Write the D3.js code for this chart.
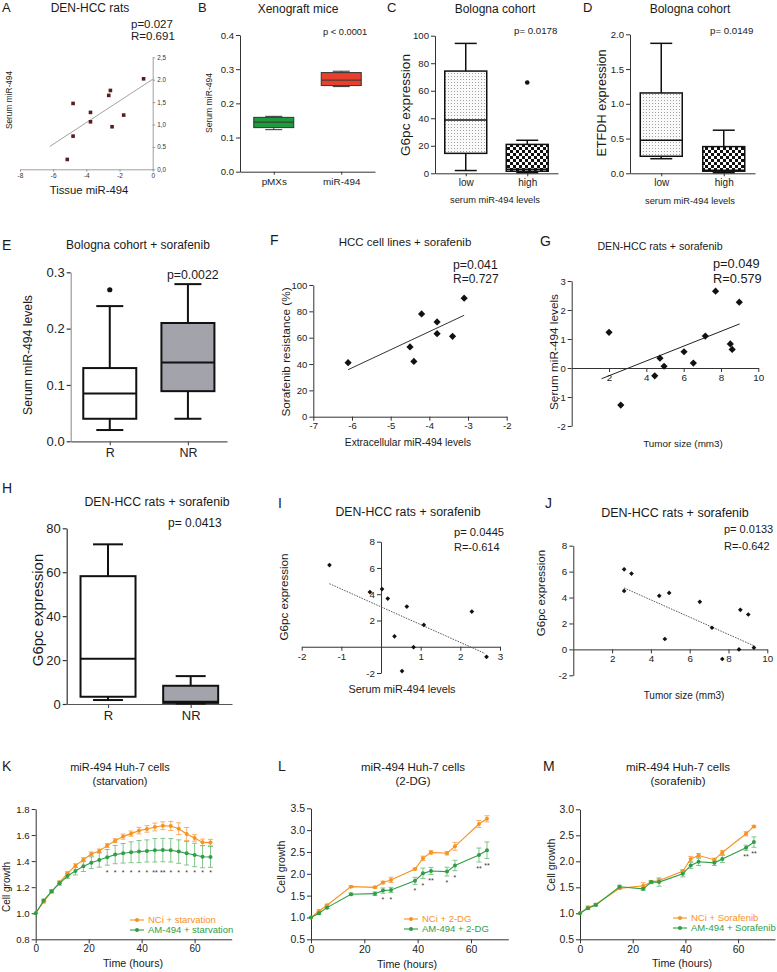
<!DOCTYPE html>
<html><head><meta charset="utf-8">
<script src="https://cdn.jsdelivr.net/npm/d3@7"></script>
<style>
body{margin:0;background:#fff}
svg{font-family:Arial,"Liberation Sans",Helvetica,sans-serif;display:block}
</style></head><body>
<svg id="c" width="777" height="972"></svg>
<script>
// ---------------- DATA ----------------
// A
const aTissue = [-0.55,-2.55,-2.65,-4.8,-3.75,-3.75,-1.75,-2.45,-4.8,-5.15];
const aSerum  = [2.02,1.76,1.65,1.47,1.27,1.06,1.21,0.95,0.74,0.22];
const aFitX = [-6.2,0], aFitY = [0.51,2.01];
const aYTicks = [0,0.5,1,1.5,2,2.5];
const aYLabels = ["0,0","0.5","1,0","1,5","2.0","2,5"];
const aXTicks = [-8,-6,-4,-2,0];
// B
const bCats = ["pMXs","miR-494"];
const bBox = [[0.123,0.129,0.145,0.159,0.162],[0.249,0.252,0.268,0.290,0.294]];
const bYTicks = [0,0.1,0.2,0.3,0.4];
// C
const cCats = ["low","high"];
const cBox = [[2,14.5,38.7,74.3,94.4],[0.5,1.5,3,21,24]];
const cOut = [[],[66]];
const cYTicks = [0,20,40,60,80,100];
// D
const dCats = ["low","high"];
const dBox = [[0.21,0.245,0.475,1.156,1.87],[0.01,0.03,0.045,0.384,0.62]];
const dYTicks = [0,0.5,1,1.5,2];
// E
const eCats = ["R","NR"];
const eBox = [[0.02,0.04,0.085,0.13,0.24],[0.04,0.089,0.14,0.21,0.279]];
const eOut = [[0.269],[]];
const eYTicks = [0,0.1,0.2,0.3];
// F
const fX = [-6.1,-4.4,-4.5,-4.2,-3.8,-3.8,-3.4,-3.1];
const fY = [41,42,53,78,72,63,61,90];
const fFitX = [-6.1,-3.1], fFitY = [35.7,77];
const fXTicks = [-7,-6,-5,-4,-3,-2], fYTicks = [0,20,40,60,80,100];
// G
const gX = [2.0,2.63,4.73,4.45,4.95,6.02,6.52,7.16,7.71,8.5,8.6,8.98];
const gY = [1.23,-1.28,0.34,-0.27,0.06,0.56,0.17,1.1,2.65,0.83,0.64,2.27];
const gFitX = [1.6,9.0], gFitY = [-0.37,1.52];
const gXTicks = [2,4,6,8,10], gYTicks = [-2,-1,0,1,2,3];
// H
const hCats = ["R","NR"];
const hBox = [[1.8,3.3,20.6,58.2,72.7],[0.2,0.5,1.0,8.3,12.7]];
const hYTicks = [0,20,40,60,80];
// I
const iX = [-1.3,-0.28,0.025,0.17,0.65,0.34,0.82,1.08,2.29,2.66,0.53];
const iY = [6.22,4.16,4.39,3.67,3.06,0.79,-0.03,1.66,2.68,-0.77,-1.85];
const iFitX = [-1.3,2.62], iFitY = [4.8,-0.51];
const iXTicks = [-2,-1,1,2,3], iYTicks = [-2,2,4,6,8];
// J
const jX = [2.62,3.0,2.62,4.43,4.94,4.72,6.52,7.15,8.61,9.02,9.31,8.54,7.68];
const jY = [6.18,5.85,4.51,4.13,4.36,0.8,3.67,1.67,3.05,2.69,0.13,0.0,-0.74];
const jFitX = [2.62,9.31], jFitY = [4.74,0.28];
const jXTicks = [2,4,6,8,10], jYTicks = [-2,0,2,4,6,8];
// K
const kTime = [0,3,6,9,12,15,18,21,24,27,30,33,36,39,42,45,48,51,54,57,60,63,66];
const kNCi = [1.0,1.089,1.166,1.237,1.306,1.365,1.411,1.455,1.478,1.519,1.557,1.588,1.611,1.634,1.647,1.662,1.672,1.67,1.649,1.608,1.578,1.544,1.542];
const kNCiErr = [0,0.01,0.01,0.01,0.012,0.015,0.015,0.015,0.015,0.015,0.015,0.02,0.02,0.025,0.025,0.03,0.03,0.035,0.045,0.05,0.025,0.025,0.025];
const kAM = [1.0,1.097,1.168,1.23,1.286,1.324,1.36,1.388,1.409,1.429,1.45,1.46,1.468,1.473,1.478,1.483,1.485,1.483,1.473,1.46,1.447,1.434,1.432];
const kAMErr = [0,0.01,0.012,0.015,0.02,0.03,0.04,0.045,0.055,0.06,0.07,0.075,0.08,0.085,0.085,0.09,0.09,0.09,0.09,0.09,0.09,0.085,0.08];
const kStars = ["","","","","","","","","","*","*","*","*","*","*","**","**","*","*","*","*","*","*"];
// L
const lTime = [0,3,6,15,24,27,30,39,42,45,51,54,63,66];
const lNCi = [1.0,1.149,1.28,1.706,1.69,1.80,1.86,2.11,2.355,2.49,2.47,2.63,3.14,3.26];
const lNCiErr = [0,0.02,0.02,0.02,0.02,0.03,0.06,0.02,0.05,0.04,0.04,0.09,0.08,0.07];
const lAM = [1.0,1.095,1.225,1.53,1.545,1.615,1.63,1.84,2.01,2.065,2.05,2.19,2.43,2.54];
const lAMErr = [0,0.03,0.02,0.03,0.04,0.06,0.06,0.08,0.12,0.08,0.1,0.12,0.16,0.19];
const lStars = ["","","","","","*","*","*","*","**","*","*","**","**"];
// M
const mTime = [0,3,6,15,24,27,30,39,42,45,51,54,63,66];
const mNCi = [1.0,1.11,1.17,1.48,1.53,1.60,1.63,1.81,2.045,2.11,2.03,2.17,2.53,2.67];
const mNCiErr = [0,0.03,0.02,0.02,0.06,0.02,0.03,0.03,0.05,0.04,0.03,0.04,0.04,0.02];
const mAM = [1.0,1.096,1.16,1.51,1.47,1.60,1.60,1.76,1.92,1.99,1.97,2.045,2.26,2.37];
const mAMErr = [0,0.02,0.02,0.03,0.03,0.03,0.08,0.06,0.06,0.07,0.05,0.07,0.05,0.1];
const mStars = ["","","","","","","","","","","","","**","**"];

// ---------------- HELPERS ----------------
const svg = d3.select("#c");
const FONT = 'Arial, "Liberation Sans", Helvetica, sans-serif';
const ORANGE = "#f7931e", GREEN = "#2f9e47", ORANGE_E = "#f6a55a", GREEN_E = "#72bf80";
const INT = d => String(d);            // hyphen-minus, as in the reference
const F1 = d => d.toFixed(1);

const defs = svg.append("defs");
const pd = defs.append("pattern").attr("id","dots").attr("width",3).attr("height",3).attr("patternUnits","userSpaceOnUse");
pd.append("rect").attr("width",3).attr("height",3).attr("fill","#fafafa");
pd.append("rect").attr("x",1).attr("y",1).attr("width",1).attr("height",1).attr("fill","#a0a0a0");
const pc = defs.append("pattern").attr("id","check").attr("width",6).attr("height",6).attr("patternUnits","userSpaceOnUse");
pc.append("rect").attr("width",6).attr("height",6).attr("fill","#fff");
pc.append("rect").attr("width",3).attr("height",3).attr("fill","#111");
pc.append("rect").attr("x",3).attr("y",3).attr("width",3).attr("height",3).attr("fill","#111");

function T(x,y,s,fs,o={}){
  const t = svg.append("text").attr("x",x).attr("y",y).attr("font-size",fs)
    .attr("fill",o.fill||"#1a1a1a").attr("text-anchor",o.a||"start").text(s);
  if(o.rot) t.attr("transform",`rotate(-90,${x},${y})`);
  return t;
}
function axis(kind, scale, pos, o={}){
  const gen = {left:d3.axisLeft, right:d3.axisRight, bottom:d3.axisBottom}[kind](scale)
    .tickSizeInner(o.ts ?? 4).tickSizeOuter(0).tickPadding(o.tp ?? 2);
  if(o.ticks) gen.tickValues(o.ticks);
  if(o.fmt) gen.tickFormat(o.fmt);
  const g = svg.append("g").attr("transform", kind==="bottom" ? `translate(0,${pos})` : `translate(${pos},0)`).call(gen);
  g.attr("font-family",FONT).attr("font-size",o.fs||10);
  g.select(".domain").attr("stroke",o.dc||"#222").attr("stroke-width",o.dw||1);
  g.selectAll(".tick line").attr("stroke",o.tc||o.dc||"#222").attr("stroke-width",o.tw||o.dw||1);
  g.selectAll(".tick text").attr("fill",o.fc||"#222");
  return g;
}
function L(x1,y1,x2,y2,c,w,dash){
  return svg.append("line").attr("x1",x1).attr("y1",y1).attr("x2",x2).attr("y2",y2)
    .attr("stroke",c).attr("stroke-width",w).attr("stroke-dasharray",dash||null);
}
function box(x,y,cats,stats,outs,o){
  cats.forEach((c,i)=>{
    const [mn,q1,md,q3,mx] = stats[i];
    const cx = x(c), hw = o.w/2, cw = o.cw/2, sc = o.sc||"#111", sw = o.sw||1.5;
    L(cx,y(mx),cx,y(q3),sc,sw); L(cx,y(q1),cx,y(mn),sc,sw);
    L(cx-cw,y(mx),cx+cw,y(mx),sc,sw); L(cx-cw,y(mn),cx+cw,y(mn),sc,sw);
    svg.append("rect").attr("x",cx-hw).attr("width",o.w).attr("y",y(q3)).attr("height",y(q1)-y(q3))
      .attr("fill",o.fills[i]).attr("stroke",sc).attr("stroke-width",sw);
    L(cx-hw,y(md),cx+hw,y(md),sc,sw);
    (outs&&outs[i]||[]).forEach(v=>svg.append("circle").attr("cx",cx).attr("cy",y(v)).attr("r",o.r||2.5).attr("fill","#111"));
  });
}
function scatter(x,y,xs,ys,o){
  const sym = d3.symbol().type(d3.symbolSquare).size(o.size);
  xs.forEach((v,i)=>{
    svg.append("path").attr("d",sym()).attr("fill",o.fill||"#111")
      .attr("transform",`translate(${x(v)},${y(ys[i])}) rotate(${o.sq?0:45})`);
  });
}
function growth(x,y,times,series){
  series.forEach(s=>{
    times.forEach((t,i)=>{
      const e = s.err[i]; if(e<=0) return;
      const cx = x(t);
      L(cx,y(s.v[i]-e),cx,y(s.v[i]+e),s.ec,0.9);
      L(cx-2.5,y(s.v[i]-e),cx+2.5,y(s.v[i]-e),s.ec,0.9);
      L(cx-2.5,y(s.v[i]+e),cx+2.5,y(s.v[i]+e),s.ec,0.9);
    });
  });
  series.forEach(s=>{
    const ln = d3.line().x((d,i)=>x(times[i])).y(d=>y(d));
    svg.append("path").attr("d",ln(s.v)).attr("fill","none").attr("stroke",s.c).attr("stroke-width",1.1);
    s.v.forEach((v,i)=>svg.append("circle").attr("cx",x(times[i])).attr("cy",y(v)).attr("r",2).attr("fill",s.c));
  });
}
function legend(x,y,items,fs){
  items.forEach((it,i)=>{
    const yy = y + i*10;
    L(x,yy,x+14,yy,it.c,1.1);
    svg.append("circle").attr("cx",x+7).attr("cy",yy).attr("r",2).attr("fill",it.c);
    T(x+18,yy+3.3,it.t,fs,{fill:it.c});
  });
}

// ---------------- PANEL A ----------------
{
  const x = d3.scaleLinear().domain([-8,0]).range([20,152.7]);
  const y = d3.scaleLinear().domain([0,2.5]).range([169.3,57.3]);
  axis("bottom",x,169.3,{ticks:aXTicks,fmt:INT,fs:6.5,ts:2.5,tp:2,dc:"#888",dw:0.8,fc:"#333"});
  axis("right",y,152.7,{ticks:aYTicks,fmt:(d,i)=>aYLabels[i],fs:6.3,ts:2.5,tp:2,dc:"#888",dw:0.8,fc:"#333"});
  L(x(aFitX[0]),y(aFitY[0]),x(aFitX[1]),y(aFitY[1]),"#8a8a8a",0.8);
  scatter(x,y,aTissue,aSerum,{sq:true,size:13,fill:"#5b1d1d"});
  T(2,12,"A",13);
  T(90,12,"DEN-HCC rats",12,{a:"middle"});
  T(131,28,"p=0.027",11.5);
  T(131,39.5,"R=0.691",11.5);
  T(89,194,"Tissue miR-494",11.3,{a:"middle"});
  T(12,100,"Serum miR-494",8.3,{a:"middle",rot:true});
}
// ---------------- PANEL B ----------------
{
  const x = d3.scalePoint().domain(bCats).range([240,375]).padding(0.5);
  const y = d3.scaleLinear().domain([0,0.4]).range([171.7,35]);
  axis("left",y,240,{ticks:bYTicks,fmt:F1,fs:9.6,ts:4,tp:2,dc:"#333"});
  axis("bottom",x,171.7,{fs:9.9,ts:3,tp:3,dc:"#333"});
  box(x,y,bCats,bBox,null,{w:40,cw:17,sw:1,sc:"#333",fills:["#1f9a3f","#e8402e"]});
  T(198,12,"B",13);
  T(298,13,"Xenograft mice",12,{a:"middle"});
  T(323,35,"p < 0.0001",9.3);
  T(212,103,"Serum miR-494",8.6,{a:"middle",rot:true});
}
// ---------------- PANEL C ----------------
{
  const x = d3.scalePoint().domain(cCats).range([435,558]).padding(0.5);
  const y = d3.scaleLinear().domain([0,100]).range([173.3,35.7]);
  axis("left",y,435,{ticks:cYTicks,fmt:INT,fs:9.6,ts:4,tp:2,dc:"#333"});
  axis("bottom",x,173.3,{fs:10,ts:3,tp:3,dc:"#333"});
  box(x,y,cCats,cBox,cOut,{w:42,cw:22,sw:1.5,fills:["url(#dots)","url(#check)"],r:2.3});
  T(387,12,"C",13);
  T(495,13,"Bologna cohort",12,{a:"middle"});
  T(514,34,"p= 0.0178",9.7);
  T(410,105,"G6pc expression",13.6,{a:"middle",rot:true});
  T(495,203,"serum miR-494 levels",9.3,{a:"middle"});
}
// ---------------- PANEL D ----------------
{
  const x = d3.scalePoint().domain(dCats).range([630,755]).padding(0.5);
  const y = d3.scaleLinear().domain([0,2]).range([173.3,34.3]);
  axis("left",y,630,{ticks:dYTicks,fmt:F1,fs:9.6,ts:4,tp:2,dc:"#333"});
  axis("bottom",x,173.3,{fs:10,ts:3,tp:3,dc:"#333"});
  box(x,y,dCats,dBox,null,{w:42,cw:22,sw:1.5,fills:["url(#dots)","url(#check)"]});
  T(583,12,"D",13);
  T(690,13,"Bologna cohort",12,{a:"middle"});
  T(710,34,"p= 0.0149",9.7);
  T(606,103,"ETFDH expression",12.7,{a:"middle",rot:true});
  T(690,204,"serum miR-494 levels",9.3,{a:"middle"});
}
// ---------------- PANEL E ----------------
{
  const x = d3.scalePoint().domain(eCats).range([70.7,227]).padding(0.5);
  const y = d3.scaleLinear().domain([0,0.3]).range([441.3,272.3]);
  axis("left",y,70.7,{ticks:eYTicks,fmt:F1,fs:13,ts:4,tp:2,dc:"#999",dw:1.2,tc:"#333",fc:"#222"});
  axis("bottom",x,441.3,{fs:12.5,ts:4,tp:3,dc:"#555",dw:1.2});
  box(x,y,eCats,eBox,eOut,{w:53,cw:27,sw:2,fills:["#fff","#a3a3ab"],r:2.6});
  T(2,250,"E",14);
  T(138,249,"Bologna cohort + sorafenib",12,{a:"middle"});
  T(167,279,"p=0.0022",12.3);
  T(32,355,"Serum miR-494 levels",12.2,{a:"middle",rot:true});
}
// ---------------- PANEL F ----------------
{
  const x = d3.scaleLinear().domain([-7,-2]).range([313.3,506.7]);
  const y = d3.scaleLinear().domain([0,100]).range([416.7,285]);
  axis("left",y,313.3,{ticks:fYTicks,fmt:INT,fs:9.5,ts:4,tp:2,dc:"#333"});
  axis("bottom",x,416.7,{ticks:fXTicks,fmt:INT,fs:9.5,ts:4,tp:2,dc:"#333"});
  L(x(fFitX[0]),y(fFitY[0]),x(fFitX[1]),y(fFitY[1]),"#333",1);
  scatter(x,y,fX,fY,{size:26});
  T(270,245,"F",14);
  T(405,246,"HCC cell lines + sorafenib",11.5,{a:"middle"});
  T(453,269,"p=0.041",12.3);
  T(453,283,"R=0.727",12);
  T(290,352,"Sorafenib resistance (%)",11.8,{a:"middle",rot:true});
  T(408,446,"Extracellular miR-494 levels",10.2,{a:"middle"});
}
// ---------------- PANEL G ----------------
{
  const x = d3.scaleLinear().domain([0,10]).range([571.7,758.3]);
  const y = d3.scaleLinear().domain([-2,3]).range([426,281]);
  axis("left",y,571.7,{ticks:gYTicks,fmt:INT,fs:9.5,ts:4,tp:2,dc:"#333"});
  axis("bottom",x,y(0),{ticks:gXTicks,fmt:INT,fs:9.8,ts:4,tp:2,dc:"#333"});
  L(x(gFitX[0]),y(gFitY[0]),x(gFitX[1]),y(gFitY[1]),"#222",1);
  scatter(x,y,gX,gY,{size:26});
  T(540,246,"G",14);
  T(660,250,"DEN-HCC rats + sorafenib",10.6,{a:"middle"});
  T(713,268,"p=0.049",12.8);
  T(713,283,"R=0.579",12.8);
  T(558,352,"Serum miR-494 levels",11.8,{a:"middle",rot:true});
  T(683,447,"Tumor size (mm3)",9.9,{a:"middle"});
}
// ---------------- PANEL H ----------------
{
  const x = d3.scalePoint().domain(hCats).range([66.7,232]).padding(0.5);
  const y = d3.scaleLinear().domain([0,80]).range([704,528.3]);
  axis("left",y,66.7,{ticks:hYTicks,fmt:INT,fs:13,ts:4,tp:2,dc:"#333",dw:1.2});
  axis("bottom",x,704,{fs:13,ts:4,tp:3,dc:"#555",dw:1.2});
  box(x,y,hCats,hBox,null,{w:55,cw:30,sw:2,fills:["#fff","#a3a3ab"]});
  T(2,493,"H",14);
  T(157,506,"DEN-HCC rats + sorafenib",12.3,{a:"middle"});
  T(168,527,"p= 0.0413",12);
  T(43,610,"G6pc expression",15,{a:"middle",rot:true});
}
// ---------------- PANEL I ----------------
{
  const x = d3.scaleLinear().domain([-2,3]).range([301.7,500]);
  const y = d3.scaleLinear().domain([-2,8]).range([673,541.7]);
  axis("left",y,x(0),{ticks:iYTicks,fmt:INT,fs:9.8,ts:4,tp:2,dc:"#333"});
  axis("bottom",x,y(0),{ticks:iXTicks,fmt:INT,fs:9.8,ts:4,tp:2,dc:"#333"});
  L(x(iFitX[0]),y(iFitY[0]),x(iFitX[1]),y(iFitY[1]),"#555",1,"1.5,1.2");
  scatter(x,y,iX,iY,{size:11});
  T(278,508,"I",14);
  T(408,516,"DEN-HCC rats + sorafenib",12.3,{a:"middle"});
  T(454,536,"p= 0.0445",11.2);
  T(454,551,"R=-0.614",11);
  T(288,597,"G6pc expression",11.6,{a:"middle",rot:true});
  T(402,693,"Serum miR-494 levels",10.9,{a:"middle"});
}
// ---------------- PANEL J ----------------
{
  const x = d3.scaleLinear().domain([0,10]).range([573.3,767.3]);
  const y = d3.scaleLinear().domain([-2,8]).range([675.3,545.7]);
  axis("left",y,573.3,{ticks:jYTicks,fmt:INT,fs:9.8,ts:4,tp:2,dc:"#333"});
  axis("bottom",x,y(0),{ticks:jXTicks,fmt:INT,fs:9.8,ts:4,tp:2,dc:"#333"});
  L(x(jFitX[0]),y(jFitY[0]),x(jFitX[1]),y(jFitY[1]),"#555",1,"1.5,1.2");
  scatter(x,y,jX,jY,{size:11});
  T(545,508,"J",14);
  T(675,517,"DEN-HCC rats + sorafenib",12.5,{a:"middle"});
  T(724,533,"p= 0.0133",11);
  T(724,550,"R=-0.642",11);
  T(545,593,"G6pc expression",11.5,{a:"middle",rot:true});
  T(684,699,"Tumor size (mm3)",10,{a:"middle"});
}
// ---------------- PANEL K ----------------
{
  const x = d3.scaleLinear().domain([0,74]).range([35.7,231.7]);
  const y = d3.scaleLinear().domain([0.8,1.8]).range([939.3,809]);
  axis("left",y,35.7,{ticks:[0.8,1.0,1.2,1.4,1.6,1.8],fmt:F1,fs:9.6,ts:4,tp:2,dc:"#333"});
  axis("bottom",x,939.3,{ticks:[0,20,40,60],fmt:INT,fs:10,ts:4,tp:2,dc:"#333"});
  growth(x,y,kTime,[{v:kNCi,err:kNCiErr,c:ORANGE,ec:ORANGE_E},{v:kAM,err:kAMErr,c:GREEN,ec:GREEN_E}]);
  kTime.forEach((t,i)=>{ if(kStars[i]) T(x(t),y(1.33)+5,kStars[i],7,{a:"middle",fill:"#333"}); });
  legend(130,920,[{t:"NCi + starvation",c:ORANGE},{t:"AM-494 + starvation",c:GREEN}],9.5);
  T(2,771,"K",14);
  T(120,771,"miR-494 Huh-7 cells",11,{a:"middle"});
  T(120,785,"(starvation)",11,{a:"middle"});
  T(10,887,"Cell growth",10,{a:"middle",rot:true});
  T(133,967,"Time (hours)",10.7,{a:"middle"});
}
// ---------------- PANEL L ----------------
{
  const x = d3.scaleLinear().domain([0,74]).range([311,508.3]);
  const y = d3.scaleLinear().domain([0.5,3.5]).range([939.3,808.3]);
  axis("left",y,311,{ticks:[0.5,1,1.5,2,2.5,3,3.5],fmt:F1,fs:10.5,ts:4,tp:2,dc:"#333"});
  axis("bottom",x,939.3,{ticks:[0,20,40,60],fmt:INT,fs:10.5,ts:4,tp:2,dc:"#333"});
  growth(x,y,lTime,[{v:lNCi,err:lNCiErr,c:ORANGE,ec:ORANGE_E},{v:lAM,err:lAMErr,c:GREEN,ec:GREEN_E}]);
  lTime.forEach((t,i)=>{ if(lStars[i]) T(x(t),y(lAM[i]-lAMErr[i])+9,lStars[i],7,{a:"middle",fill:"#333"}); });
  legend(404,919,[{t:"NCi + 2-DG",c:ORANGE},{t:"AM-494 + 2-DG",c:GREEN}],9.5);
  T(278,771,"L",14);
  T(413,771,"miR-494 Huh-7 cells",11.5,{a:"middle"});
  T(413,785,"(2-DG)",11.5,{a:"middle"});
  T(285,867,"Cell growth",10.5,{a:"middle",rot:true});
  T(407,968,"Time (hours)",10.7,{a:"middle"});
}
// ---------------- PANEL M ----------------
{
  const x = d3.scaleLinear().domain([0,74]).range([580,775]);
  const y = d3.scaleLinear().domain([0.5,3.0]).range([939.3,809.3]);
  axis("left",y,580,{ticks:[0.5,1,1.5,2,2.5,3],fmt:F1,fs:10.5,ts:4,tp:2,dc:"#333"});
  axis("bottom",x,939.3,{ticks:[0,20,40,60],fmt:INT,fs:10.5,ts:4,tp:2,dc:"#333"});
  growth(x,y,mTime,[{v:mNCi,err:mNCiErr,c:ORANGE,ec:ORANGE_E},{v:mAM,err:mAMErr,c:GREEN,ec:GREEN_E}]);
  mTime.forEach((t,i)=>{ if(mStars[i]) T(x(t),y(mAM[i]-mAMErr[i])+9,mStars[i],7,{a:"middle",fill:"#333"}); });
  legend(673,918,[{t:"NCi + Sorafenib",c:ORANGE},{t:"AM-494 + Sorafenib",c:GREEN}],9.5);
  T(543,771,"M",14);
  T(678,771,"miR-494 Huh-7 cells",11.5,{a:"middle"});
  T(678,785,"(sorafenib)",11.5,{a:"middle"});
  T(555,865,"Cell growth",10.5,{a:"middle",rot:true});
  T(682,967,"Time (hours)",10.7,{a:"middle"});
}
</script>
</body></html>
